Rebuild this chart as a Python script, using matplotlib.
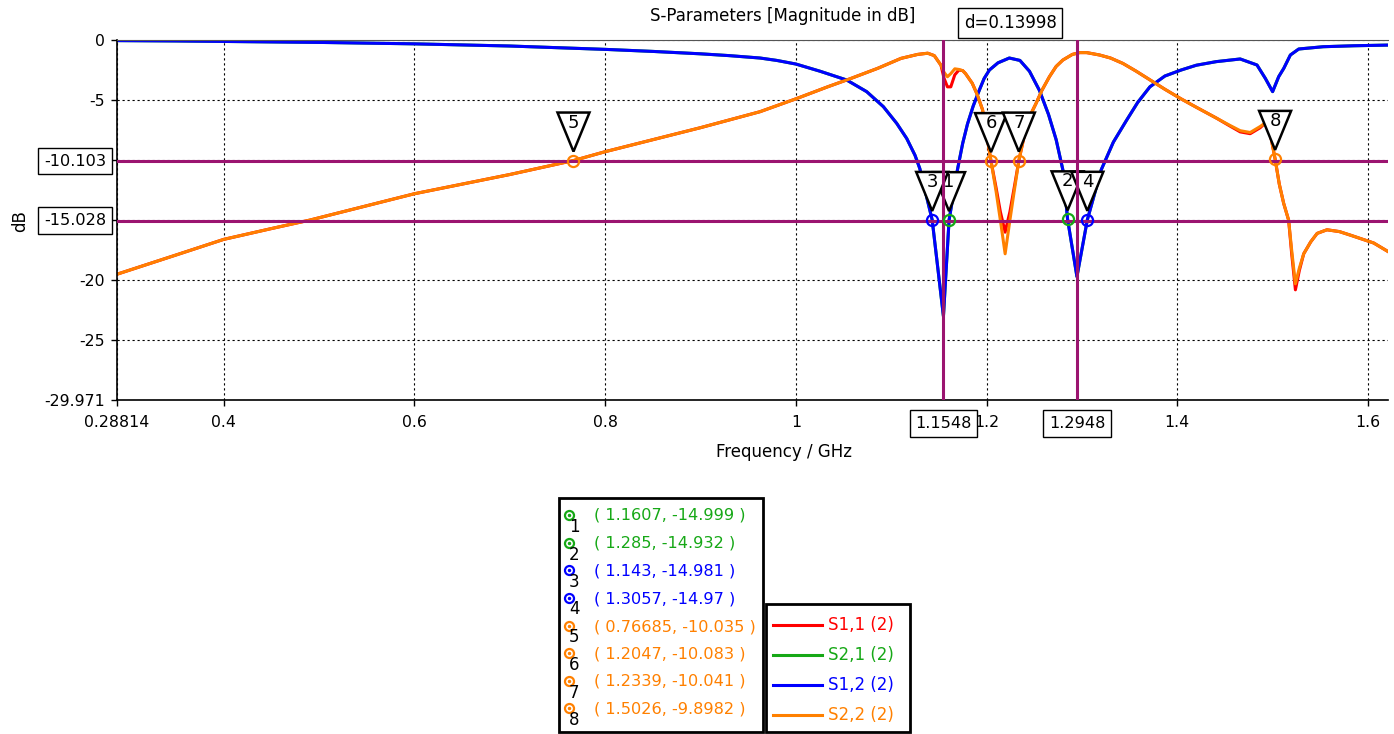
import matplotlib
matplotlib.use('Agg')
import matplotlib.pyplot as plt
import matplotlib.transforms as mtransforms
from matplotlib.patches import Polygon, Rectangle

W, H = 1394, 734
DPI = 100

# ---------------- data ----------------
freq_refl = [0.28814, 0.35, 0.40, 0.45, 0.49, 0.50, 0.60, 0.70, 0.76685, 0.80, 0.85, 0.90,
             0.9624, 1.00, 1.0333, 1.0578, 1.0858, 1.1103, 1.1278, 1.1383, 1.1452, 1.1522,
             1.1555, 1.159, 1.1625, 1.1667, 1.171, 1.175, 1.178, 1.185, 1.19, 1.1958, 1.20,
             1.2047, 1.21, 1.2145, 1.2195, 1.2245, 1.229, 1.2339, 1.24, 1.245, 1.2518, 1.258,
             1.266, 1.273, 1.28, 1.29, 1.2976, 1.305, 1.3186, 1.33, 1.343, 1.357, 1.371,
             1.387, 1.404, 1.42, 1.441, 1.455, 1.466, 1.4765, 1.487, 1.4924, 1.498, 1.5026,
             1.507, 1.5116, 1.5168, 1.52, 1.5239, 1.528, 1.5326, 1.54, 1.5467, 1.557, 1.57,
             1.5817, 1.606, 1.625]
s22_db = [-19.5, -17.9, -16.6, -15.7, -15.0, -14.8, -12.8, -11.2, -10.035, -9.3, -8.3, -7.3,
          -5.97, -4.9, -3.9, -3.2, -2.36, -1.53, -1.2, -1.1, -1.3, -2.1,
          -2.7, -3.06, -2.8, -2.4, -2.45, -2.55, -2.8, -3.6, -4.5, -5.8, -7.8,
          -10.083, -12.6, -15.0, -17.8, -15.0, -12.6, -10.041, -7.8, -6.4, -5.3, -4.2,
          -3.05, -2.2, -1.67, -1.2, -1.05, -1.05, -1.25, -1.5, -1.95, -2.6, -3.3,
          -4.1, -4.9, -5.6, -6.5, -7.1, -7.55, -7.7, -7.2, -6.9, -8.0, -9.8982,
          -12.0, -13.6, -15.0, -17.5, -20.3, -19.0, -17.8, -16.8, -16.1, -15.8, -15.95,
          -16.25, -16.9, -17.8]
s11_db = [-19.5, -17.9, -16.6, -15.7, -15.0, -14.8, -12.8, -11.2, -10.035, -9.3, -8.3, -7.3,
          -5.97, -4.9, -3.9, -3.2, -2.36, -1.53, -1.2, -1.1, -1.3, -2.1,
          -3.2, -3.9, -3.9, -2.9, -2.5, -2.55, -2.8, -3.6, -4.5, -5.8, -7.8,
          -10.083, -12.3, -14.3, -16.0, -14.3, -12.3, -10.041, -7.8, -6.4, -5.3, -4.2,
          -3.05, -2.2, -1.67, -1.2, -1.05, -1.05, -1.25, -1.5, -1.95, -2.6, -3.3,
          -4.1, -4.9, -5.6, -6.5, -7.15, -7.65, -7.8, -7.3, -6.9, -8.0, -9.8982,
          -12.0, -13.6, -15.0, -17.8, -20.8, -19.2, -17.8, -16.8, -16.1, -15.8, -15.95,
          -16.25, -16.9, -17.8]

freq_trans = [0.28814, 0.35, 0.40, 0.50, 0.60, 0.70, 0.80, 0.85, 0.90, 0.93, 0.9624, 0.98,
              1.00, 1.0254, 1.0533, 1.0743, 1.0918, 1.1058, 1.1163, 1.125, 1.130, 1.143,
              1.1548, 1.1607, 1.1695, 1.175, 1.18, 1.186, 1.1923, 1.1975, 1.203, 1.212,
              1.2239, 1.235, 1.245, 1.2555, 1.265, 1.273, 1.28, 1.285, 1.2948, 1.3057,
              1.3203, 1.333, 1.3467, 1.3585, 1.3713, 1.387, 1.404, 1.42, 1.441, 1.466,
              1.4836, 1.4924, 1.500, 1.5064, 1.5117, 1.5186, 1.5274, 1.553, 1.585, 1.623]
s12_db = [-0.05, -0.08, -0.12, -0.2, -0.32, -0.5, -0.78, -0.95, -1.15, -1.3, -1.5, -1.7,
          -2.0, -2.6, -3.33, -4.3, -5.55, -6.94, -8.2, -9.6, -10.7, -14.981,
          -23.0, -14.999, -10.8, -8.6, -7.0, -5.5, -4.2, -3.2, -2.5, -1.9,
          -1.5, -1.7, -2.6, -4.2, -6.2, -8.3, -10.8, -14.932, -19.7, -14.97,
          -10.8, -8.5, -6.7, -5.2, -3.9, -3.0, -2.5, -2.1, -1.8, -1.58,
          -2.08, -3.2, -4.3, -3.05, -2.36, -1.25, -0.75, -0.56, -0.48, -0.42]
s21_db = list(s12_db)

series_names = ['S1,1 (2)', 'S2,1 (2)', 'S1,2 (2)', 'S2,2 (2)']
series_colors = ['#ff0000', '#16a816', '#0000ff', '#ff8000']

marker_ids = ['1', '2', '3', '4', '5', '6', '7', '8']
marker_freq = [1.1607, 1.285, 1.143, 1.3057, 0.76685, 1.2047, 1.2339, 1.5026]
marker_db = [-14.999, -14.932, -14.981, -14.97, -10.035, -10.083, -10.041, -9.8982]
marker_series = [1, 1, 2, 2, 3, 3, 3, 3]
marker_freq_text = ['1.1607', '1.285', '1.143', '1.3057', '0.76685', '1.2047', '1.2339', '1.5026']
marker_db_text = ['-14.999', '-14.932', '-14.981', '-14.97', '-10.035', '-10.083', '-10.041', '-9.8982']

hline_levels = [-10.103, -15.028]
hline_labels = ['-10.103', '-15.028']
vline_freqs = [1.1548, 1.2948]
vline_labels = ['1.1548', '1.2948']
delta_label = 'd=0.13998'

xticks = [0.28814, 0.4, 0.6, 0.8, 1.0, 1.2, 1.4, 1.6]
xticklabels = ['0.28814', '0.4', '0.6', '0.8', '1', '1.2', '1.4', '1.6']
yticks = [0, -5, -10, -15, -20, -25, -29.971]
yticklabels = ['0', '-5', '', '', '-20', '-25', '-29.971']

title = 'S-Parameters [Magnitude in dB]'
xlabel = 'Frequency / GHz'
ylabel = 'dB'

# ---------------- figure ----------------
plt.rcParams['font.family'] = ['DejaVu Sans']
FS = 11.3
FS_BIG = 12
PURPLE = '#9b1470'

fig = plt.figure(figsize=(W / DPI, H / DPI), dpi=DPI)
ax = fig.add_axes([117 / W, 1 - 400 / H, (1388 - 117) / W, 360 / H])
ax.set_xlim(0.28814, 1.621)
ax.set_ylim(-29.971, 0)

ax.set_xticks(xticks)
ax.set_xticklabels(xticklabels, fontsize=FS)
ax.set_yticks(yticks)
ax.set_yticklabels(yticklabels, fontsize=FS)
ax.tick_params(axis='both', direction='out', length=4, width=1, color='black')
ax.tick_params(axis='x', pad=7)
ax.tick_params(axis='y', pad=5)
ax.grid(True, color='black', linestyle=(0, (2, 2.5)), linewidth=0.8)
ax.set_axisbelow(True)
ax.spines['right'].set_visible(False)
ax.spines['top'].set_color('#555555')
ax.spines['left'].set_linewidth(1.2)
ax.spines['bottom'].set_linewidth(1.2)

# curves
curves = [(freq_refl, s11_db), (freq_trans, s21_db), (freq_trans, s12_db), (freq_refl, s22_db)]
for i, (fx, fy) in enumerate(curves):
    ax.plot(fx, fy, color=series_colors[i], lw=2.2, zorder=2 + i * 0.1,
            solid_joinstyle='round', clip_on=True)

fig.canvas.draw()

# marker triangles (white-filled, drawn in pixel offsets from the marker point)
ident = mtransforms.IdentityTransform()
for k in range(len(marker_ids)):
    X, Y = ax.transData.transform((marker_freq[k], marker_db[k]))
    tri = Polygon([(X - 16, Y + 48), (X + 16, Y + 48), (X, Y + 9)], closed=True,
                  facecolor='white', edgecolor='black', lw=1.8, transform=ident,
                  zorder=3 + k * 0.01, clip_on=False, joinstyle='miter')
    ax.add_patch(tri)
    ax.text(X, Y + 38, marker_ids[k], transform=ident, ha='center', va='center',
            fontsize=13, color='black', zorder=3.005 + k * 0.01, clip_on=False)

# marker lines
for lv in hline_levels:
    ax.axhline(lv, color=PURPLE, lw=2.2, zorder=4)
for fv in vline_freqs:
    ax.axvline(fv, color=PURPLE, lw=2.2, zorder=4)

# marker circles
for k in range(len(marker_ids)):
    ax.plot(marker_freq[k], marker_db[k], 'o', ms=8, mfc='none',
            mec=series_colors[marker_series[k]], mew=1.6, zorder=5)

# boxed marker-line labels
box = dict(boxstyle='square,pad=0.35', fc='white', ec='black', lw=1)
ytrans = mtransforms.blended_transform_factory(ax.transAxes, ax.transData)
for lv, lab in zip(hline_levels, hline_labels):
    ax.text(-0.0085, lv, lab, transform=ytrans, ha='right', va='center', fontsize=11.6,
            bbox=box, zorder=6, clip_on=False)
xtrans = mtransforms.blended_transform_factory(ax.transData, ax.transAxes)
for fv, lab in zip(vline_freqs, vline_labels):
    ax.text(fv, -0.065, lab, transform=xtrans, ha='center', va='center', fontsize=11.6,
            bbox=box, zorder=6, clip_on=False)
ax.text(sum(vline_freqs) / 2, 1.047, delta_label, transform=xtrans, ha='center', va='center',
        fontsize=12, bbox=box, zorder=6, clip_on=False)

# titles
fig.text(783 / W, 1 - 16 / H, title, ha='center', va='center', fontsize=FS_BIG)
fig.text(784 / W, 1 - 452 / H, xlabel, ha='center', va='center', fontsize=FS_BIG)
fig.text(20 / W, 1 - 221 / H, ylabel, ha='center', va='center', fontsize=FS_BIG, rotation=90)

# ---------------- overlay (pixel coordinates) for legends ----------------
ov = fig.add_axes([0, 0, 1, 1])
ov.set_xlim(0, W)
ov.set_ylim(H, 0)
ov.axis('off')

ov.add_patch(Rectangle((559, 498), 204, 234, fc='white', ec='black', lw=2))
row_y = [515.5, 543.5, 571, 598.5, 626.5, 654, 681.5, 709]
for k in range(len(marker_ids)):
    c = series_colors[marker_series[k]]
    y = row_y[k]
    ov.plot(568.5, y - 1, 'o', ms=6.5, mfc='none', mec=c, mew=1.6)
    ov.plot(568.5, y - 1, 'o', ms=1.5, color=c)
    ov.text(574, y + 11, marker_ids[k], ha='center', va='center', fontsize=12, color='black')
    ov.text(594, y, '( %s, %s )' % (marker_freq_text[k], marker_db_text[k]),
            ha='left', va='center', fontsize=11.6, color=c)

ov.add_patch(Rectangle((766, 604), 144, 128, fc='white', ec='black', lw=2))
leg_y = [625, 655, 685, 715]
for i in range(4):
    y = leg_y[i]
    ov.plot([773, 822], [y, y], color=series_colors[i], lw=2.2)
    ov.text(828, y, series_names[i], ha='left', va='center', fontsize=12, color=series_colors[i])

fig.savefig('out.png', dpi=DPI)
